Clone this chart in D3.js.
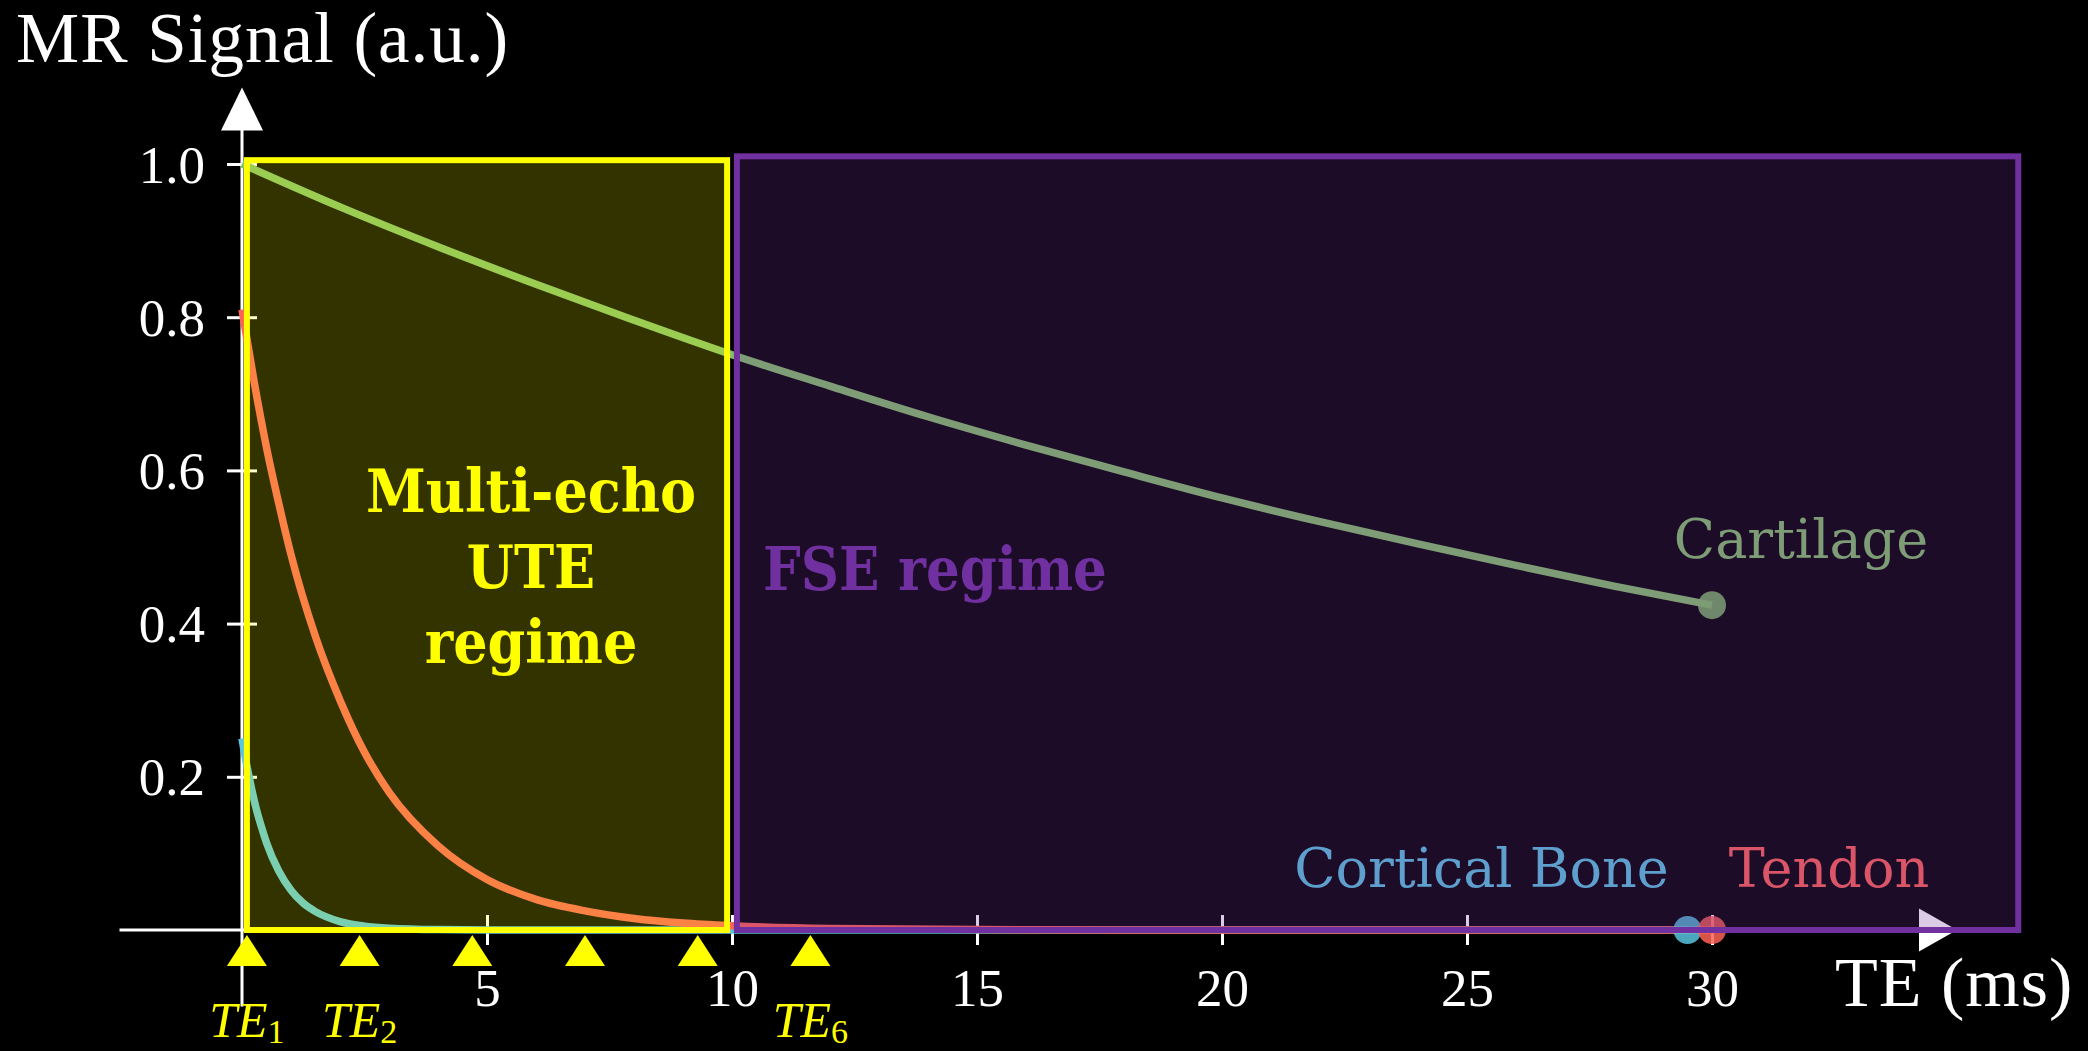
<!DOCTYPE html>
<html>
<head>
<meta charset="utf-8">
<script src="https://cdn.jsdelivr.net/npm/d3@7"></script>
<style>
  body { margin: 0; background: #000; }
  svg { display: block; }
</style>
</head>
<body>
<script>
// signal decay, TE in ms
var cartilageTE = [0, 2, 4, 6, 8, 10, 12, 14, 16, 18, 20, 22, 24, 26, 28, 30];
var cartilageSignal = [1.0, 0.944, 0.892, 0.843, 0.796, 0.751, 0.710, 0.670, 0.633, 0.598, 0.564, 0.533, 0.504, 0.476, 0.449, 0.424];

var tendonTE = [0, 0.25, 0.5, 0.75, 1, 1.5, 2, 2.5, 3, 4, 5, 6, 7, 8, 9, 10, 12, 15, 20, 25, 30];
var tendonSignal = [0.81, 0.715, 0.63, 0.557, 0.49, 0.383, 0.30, 0.232, 0.18, 0.11, 0.066, 0.040, 0.025, 0.015, 0.009, 0.0055, 0.002, 0.0005, 0, 0, 0];

var boneTE = [0, 0.1, 0.2, 0.3, 0.4, 0.5, 0.75, 1, 1.25, 1.5, 2, 2.5, 3, 4, 5, 10, 20, 29.5];
var boneSignal = [0.25, 0.214, 0.183, 0.156, 0.134, 0.114, 0.077, 0.052, 0.035, 0.024, 0.011, 0.005, 0.0023, 0.0005, 0.0001, 0, 0, 0];

var tissueNames = ["Cartilage", "Cortical Bone", "Tendon"];

// echo times of the multi-echo acquisition
var echoTimes = [0.1, 2.4, 4.7, 7.0, 9.3, 11.6];
var echoLabels = ["1", "2", "", "", "", "6"];

// acquisition regimes (TE range, signal range)
var regimeNames = [["Multi-echo", "UTE", "regime"], ["FSE regime"]];
var regimeTE = [[0.1, 9.9], [10.1, 36.25]];
var regimeSignal = [[0, 1.005], [0, 1.01]];

var xTicks = [5, 10, 15, 20, 25, 30];
var yTicks = [0.2, 0.4, 0.6, 0.8, 1.0];
var xAxisExtent = [-2.5, 35];
var yAxisExtent = [-0.1, 1.1];

var width = 2088, height = 1051;

var GREEN = "#83C167", RED = "#FC6255", BLUE = "#58C4DD",
    YELLOW = "#FFFF00", PURPLE = "#7030A0";

var serif = "'Liberation Serif', 'DejaVu Serif', serif";

var x = d3.scaleLinear().domain([0, 30]).range([242, 1712]);
var y = d3.scaleLinear().domain([0, 1]).range([930, 164]);

var svg = d3.select("body").append("svg")
    .attr("width", width)
    .attr("height", height)
    .style("background", "#000");

// ---- axes (drawn first, the regime boxes tint them) ----
var gAxes = svg.append("g").attr("class", "axes");

var xAxis = d3.axisBottom(x).tickValues(xTicks).tickFormat(d3.format("d"));
var gx = gAxes.append("g")
    .attr("transform", "translate(0," + y(0) + ")")
    .call(xAxis);
gx.select(".domain").remove();
gx.selectAll(".tick line")
    .attr("y1", -15).attr("y2", 15)
    .attr("stroke", "#fff").attr("stroke-width", 3);
gx.selectAll(".tick text")
    .attr("y", 76).attr("dy", null)
    .attr("fill", "#fff")
    .style("font-family", serif).style("font-size", "53px");

var yAxis = d3.axisLeft(y).tickValues(yTicks).tickFormat(d3.format(".1f"));
var gy = gAxes.append("g")
    .attr("transform", "translate(" + x(0) + ",0)")
    .call(yAxis);
gy.select(".domain").remove();
gy.selectAll(".tick line")
    .attr("x1", -15).attr("x2", 15)
    .attr("stroke", "#fff").attr("stroke-width", 3);
gy.selectAll(".tick text")
    .attr("x", -37).attr("dy", "0.34em")
    .attr("fill", "#fff")
    .style("font-family", serif).style("font-size", "53px");

var xEnd = x(xAxisExtent[1]), yTop = y(yAxisExtent[1]);

gAxes.append("line")
    .attr("x1", x(xAxisExtent[0])).attr("x2", xEnd - 36)
    .attr("y1", y(0)).attr("y2", y(0))
    .attr("stroke", "#fff").attr("stroke-width", 3);
gAxes.append("path")
    .attr("d", "M" + xEnd + "," + y(0) + "L" + (xEnd - 38) + "," + (y(0) - 21.5) +
               "L" + (xEnd - 38) + "," + (y(0) + 21.5) + "Z")
    .attr("fill", "#fff");

gAxes.append("line")
    .attr("x1", x(0)).attr("x2", x(0))
    .attr("y1", y(yAxisExtent[0])).attr("y2", yTop + 40)
    .attr("stroke", "#fff").attr("stroke-width", 3);
gAxes.append("path")
    .attr("d", "M" + x(0) + "," + yTop + "L" + (x(0) - 21) + "," + (yTop + 43) +
               "L" + (x(0) + 21) + "," + (yTop + 43) + "Z")
    .attr("fill", "#fff");

svg.append("text")
    .attr("x", 16).attr("y", 62)
    .attr("fill", "#fff")
    .style("font-family", serif).style("font-size", "71px")
    .style("letter-spacing", "1px")
    .text("MR Signal (a.u.)");

svg.append("text")
    .attr("x", 1835).attr("y", 1006)
    .attr("fill", "#fff")
    .style("font-family", serif).style("font-size", "70px")
    .style("letter-spacing", "1px")
    .text("TE (ms)");

// ---- decay curves ----
var tissues = [
    {name: tissueNames[0], te: cartilageTE, s: cartilageSignal, color: GREEN, dx: 89, dy: -47},
    {name: tissueNames[1], te: boneTE, s: boneSignal, color: BLUE, dx: -206, dy: -43},
    {name: tissueNames[2], te: tendonTE, s: tendonSignal, color: RED, dx: 117, dy: -43}
];

var line = d3.line()
    .x(d => x(d[0]))
    .y(d => y(d[1]))
    .curve(d3.curveMonotoneX);

var gCurves = svg.append("g").attr("class", "curves");
tissues.forEach(function(t) {
    gCurves.append("path")
        .datum(d3.zip(t.te, t.s))
        .attr("d", line)
        .attr("fill", "none")
        .attr("stroke", t.color)
        .attr("stroke-width", 7.5);
});

tissues.forEach(function(t) {
    var n = t.te.length - 1;
    svg.append("text")
        .attr("x", x(t.te[n]) + t.dx)
        .attr("y", y(t.s[n]) + t.dy)
        .attr("text-anchor", "middle")
        .attr("fill", t.color)
        .style("font-family", "'DejaVu Serif', serif")
        .style("font-size", "54px")
        .text(t.name);
});

// end-point dots, under the regime tint
tissues.forEach(function(t) {
    var n = t.te.length - 1;
    svg.append("circle")
        .attr("cx", x(t.te[n]))
        .attr("cy", y(t.s[n]))
        .attr("r", 14)
        .attr("fill", t.color)
        .attr("fill-opacity", 0.85);
});

// ---- regime boxes ----
var regimeFill = [YELLOW, PURPLE], regimeOpacity = [0.2, 0.25];
var gBoxes = svg.append("g").attr("class", "regimes");
regimeTE.forEach(function(r, i) {
    gBoxes.append("rect")
        .attr("x", x(r[0]))
        .attr("y", y(regimeSignal[i][1]))
        .attr("width", x(r[1]) - x(r[0]))
        .attr("height", y(regimeSignal[i][0]) - y(regimeSignal[i][1]))
        .attr("fill", regimeFill[i])
        .attr("fill-opacity", regimeOpacity[i])
        .attr("stroke", regimeFill[i])
        .attr("stroke-width", 6);
});

var boldFont = "'DejaVu Serif', serif";
svg.append("text")
    .attr("text-anchor", "middle")
    .attr("fill", YELLOW)
    .style("font-family", boldFont).style("font-weight", "bold")
    .style("font-stretch", "condensed")
    .style("font-size", "60px")
    .selectAll("tspan")
    .data(regimeNames[0])
    .enter().append("tspan")
    .attr("x", 531)
    .attr("y", (d, i) => 512 + i * 75.5)
    .text(d => d);

svg.append("text")
    .attr("x", 763).attr("y", 590)
    .attr("fill", PURPLE)
    .style("font-family", boldFont).style("font-weight", "bold")
    .style("font-stretch", "condensed")
    .style("font-size", "59px")
    .text(regimeNames[1][0]);

// ---- echo markers ----
var gEcho = svg.append("g").attr("class", "echoes");
gEcho.selectAll("path")
    .data(echoTimes)
    .enter().append("path")
    .attr("d", d => "M" + x(d) + ",935L" + (x(d) - 20) + ",966L" + (x(d) + 20) + ",966Z")
    .attr("fill", YELLOW);

var echoText = gEcho.selectAll("text")
    .data(echoTimes.filter((d, i) => echoLabels[i] !== ""))
    .enter().append("text")
    .attr("x", d => x(d))
    .attr("y", 1037)
    .attr("text-anchor", "middle")
    .attr("fill", YELLOW)
    .style("font-family", serif)
    .style("font-style", "italic")
    .style("font-size", "50px");
echoText.append("tspan").text("TE");
echoText.append("tspan")
    .attr("dy", 6)
    .style("font-size", "34px")
    .style("font-style", "normal")
    .text(d => echoLabels[echoTimes.indexOf(d)]);
</script>
</body>
</html>
